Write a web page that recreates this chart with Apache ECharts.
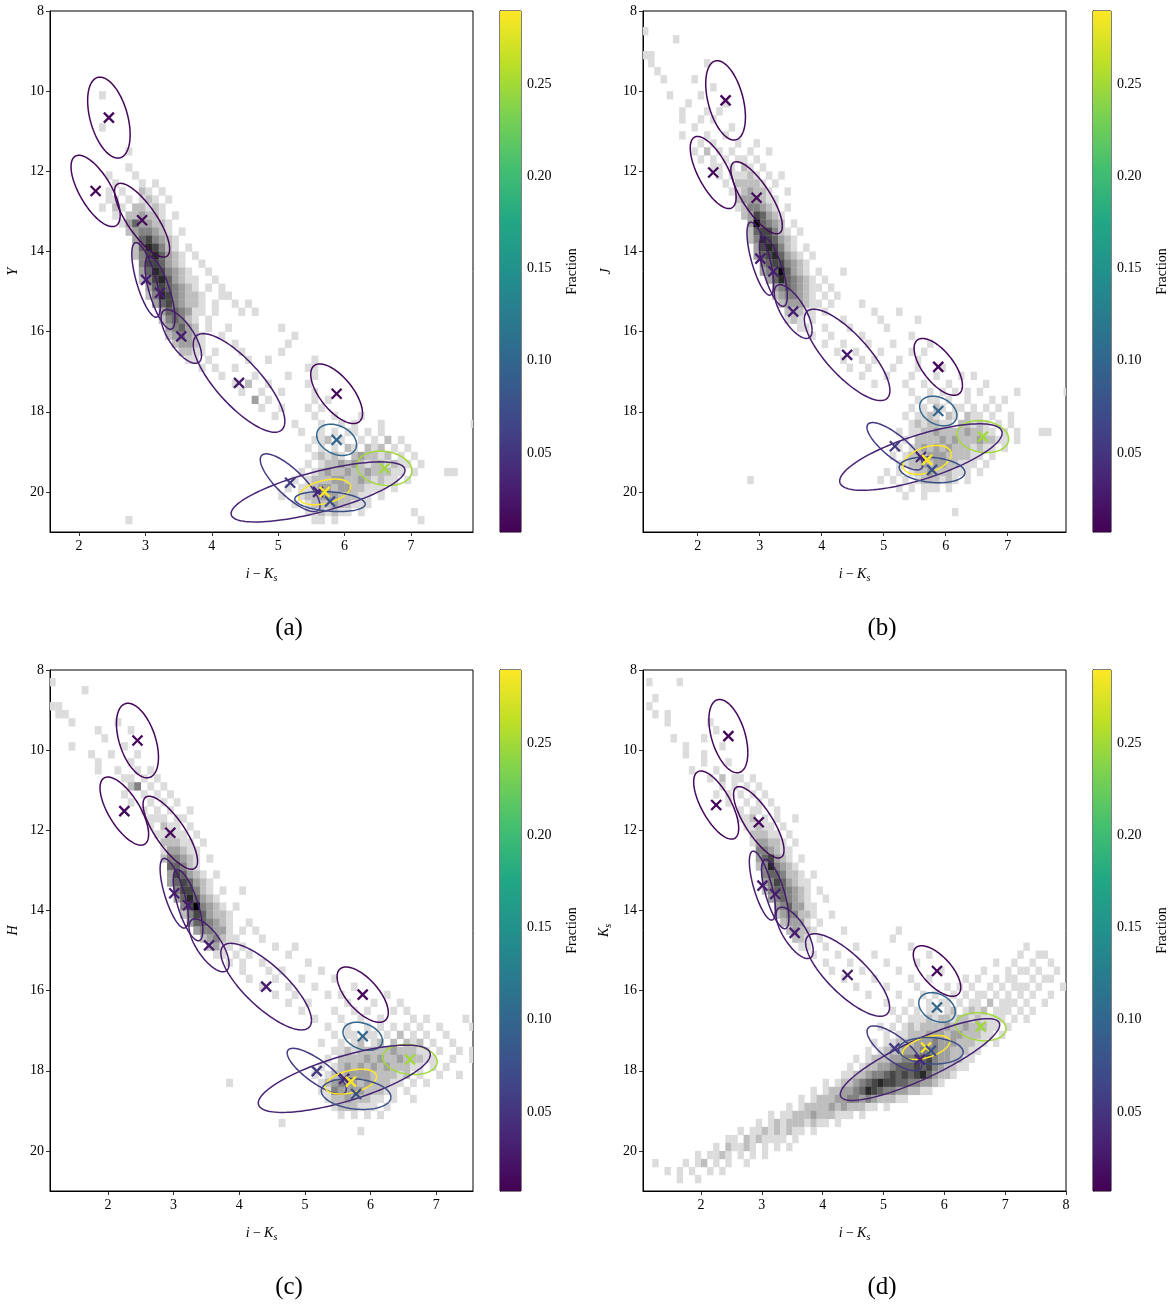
<!DOCTYPE html>
<html><head><meta charset="utf-8">
<script src="https://cdn.jsdelivr.net/npm/echarts@6/dist/echarts.min.js"></script>
<style>html,body{margin:0;padding:0;background:#fff;}#c{width:1170px;height:1306px;}</style>
</head><body><div id="c"></div>
<script>
// ---------------- data ----------------
// Gaussian mixture components (same order in every panel)
const compX    = [2.45, 2.25, 2.95, 3.01, 3.22, 3.54, 4.41, 5.88, 5.88, 6.60, 5.18, 5.60, 5.70, 5.78];
const compHX   = [0.32, 0.37, 0.415, 0.215, 0.225, 0.305, 0.69, 0.39, 0.30, 0.415, 0.45, 1.31, 0.39, 0.53];
const compFrac = [0.012, 0.012, 0.014, 0.03, 0.03, 0.03, 0.028, 0.012, 0.10, 0.25, 0.055, 0.035, 0.29, 0.075];
// per-panel centre magnitude, half-height and tilt (correlation)
const cyY  = [10.66, 12.49, 13.22, 14.71, 15.03, 16.12, 17.28, 17.55, 18.70, 19.41, 19.77, 20.00, 20.00, 20.24];
const hyY  = [1.01, 0.89, 0.92, 0.93, 0.91, 0.67, 1.23, 0.745, 0.39, 0.43, 0.72, 0.75, 0.32, 0.25];
const rhoY = [0.42, 0.68, 0.78, 0.70, 0.70, 0.70, 0.78, 0.65, 0.30, 0.15, 0.80, -0.72, -0.40, 0.25];
const cyJ  = [10.23, 12.03, 12.66, 14.18, 14.50, 15.50, 16.58, 16.88, 17.98, 18.62, 18.86, 19.13, 19.20, 19.45];
const hyJ  = [0.99, 0.90, 0.90, 0.91, 0.87, 0.67, 1.14, 0.71, 0.37, 0.40, 0.59, 0.83, 0.36, 0.32];
const rhoJ = [0.42, 0.68, 0.78, 0.70, 0.70, 0.70, 0.78, 0.65, 0.30, 0.15, 0.80, -0.72, -0.40, 0.20];
const cyH  = [9.76, 11.52, 12.06, 13.57, 13.87, 14.87, 15.90, 16.10, 17.14, 17.72, 18.01, 18.20, 18.27, 18.58];
const hyH  = [0.93, 0.85, 0.91, 0.87, 0.885, 0.66, 1.08, 0.69, 0.35, 0.375, 0.57, 0.84, 0.31, 0.385];
const rhoH = [0.45, 0.68, 0.78, 0.70, 0.70, 0.70, 0.78, 0.65, 0.30, 0.15, 0.80, -0.72, -0.40, 0.20];
const cyK  = [9.65, 11.37, 11.80, 13.38, 13.59, 14.56, 15.61, 15.51, 16.42, 16.90, 17.44, 17.72, 17.42, 17.50];
const hyK  = [0.915, 0.85, 0.89, 0.86, 0.865, 0.64, 1.03, 0.63, 0.37, 0.35, 0.56, 1.02, 0.30, 0.33];
const rhoK = [0.45, 0.68, 0.78, 0.70, 0.70, 0.70, 0.78, 0.65, 0.30, 0.15, 0.75, -0.85, -0.50, 0.10];

// 2D histogram: bins of 0.1 (colour) x 0.2 (mag) starting at (1.0, 8.0)
// rows: [row index, first column, counts per column ('.' = empty, 1..9 = darkness)]
const binX0 = 1.0, binY0 = 8.0, binW = 0.1, binH = 0.2;
const histY = [
[10,13,"1"],[14,13,"1"],[17,17,"1"],[19,17,"1"],[20,14,"1...1"],[21,15,"1...1.1"],
[22,14,"1.1..21.1"],[23,14,"11.1.121.1"],[24,13,"1.21.22121"],[25,15,"1.223221.1"],
[26,16,"13533221"],[27,17,"2344321.1"],[28,18,"3564321"],[29,18,"2576421.1"],
[30,18,"24675321.1"],[31,19,"4665321..1"],[32,19,"35764321..1"],[33,19,"246753211..1"],
[34,20,"35654321.1.1"],[35,20,"247643221..11"],[36,21,"35643221.1..1.1"],
[37,22,"3554311.1...1.1"],[38,22,"245421.1"],[39,23,"34532.1..1.......1"],
[40,23,"234321..1..........1"],[41,24,"23321....1.......1"],[42,25,"2211.1...1.....1"],
[43,26,"11.1.....1..1......1"],[44,28,"1.1..1..........11"],[45,31,"1....1....1...1"],
[46,33,"1.2..1.....1"],[47,34,"1..1..1....1"],[48,36,"3.1......1.1"],[49,37,"1..1...1.1"],
[50,39,"1.....1..1...1"],[51,42,"1...1..1.1...1"],[51,69,"1"],[52,43,"1..1.1.11.1.1"],
[53,45,"112.1..1.1.2.1"],[54,44,"1.1.1.21.212.1.1"],[55,45,"12121.232212.1.1"],
[56,44,"1.12232321221211.1"],[57,43,"1.12322322322211.1....11"],[58,42,"1.12223322321211.1"],
[59,41,"1.1123323322111.1"],[60,40,"1..12233322211.1"],[61,42,"1.1222322111"],
[62,44,"1121211.1.......1"],[63,17,"1"],[63,45,"11.1............1"]
];
const histJ = [
[2,1,"1"],[3,6,"1"],[5,1,"11"],[6,2,"1........1"],[7,3,"1"],[8,4,"1....1"],[9,12,"1"],
[10,5,"1....1"],[11,8,"1.....1"],[12,7,"1...1.1"],[13,7,"1..1.1"],[14,9,"1.....1"],
[15,7,"1...1..1"],[16,10,"1.1...1..1"],[17,9,"1.2.1.1..1..1"],[18,10,"1.1.1.11.1"],
[19,12,"11.1.21.1"],[20,13,"1.11121.1.1"],[21,14,"1.22221.1"],[22,15,"1123221..1"],
[23,16,"2333211"],[24,16,"1244321.1"],[25,17,"2365321"],[26,18,"385432.1"],
[27,18,"2566421.1"],[28,18,"24765321"],[29,19,"3676421.1"],[30,19,"35675321.1"],
[31,20,"45664321"],[32,20,"34585321.1...1"],[33,21,"35754321.1"],[34,22,"34543211.1"],
[35,22,"2344321.1.1"],[36,23,"2333211.1....1"],[37,24,"22211.1.......1...1"],
[38,24,"121.1....1.....1.....1"],[39,26,"11..1...1.....1"],[40,28,"1..1....1.......1"],
[41,30,"1..1...1...1.....1"],[42,32,"1..1...1....1.1"],[43,33,"1..1.1...1..1"],
[44,34,"1..1...1...1...1"],[45,36,"1...1...1...1...1.1"],[46,38,"1....1..1...1.....1"],
[47,44,"1..1.1.1.1.1.....1.......1"],[48,45,"1.11.1..1...1.1"],[49,44,"1.1.21.11.1.1.1"],
[50,43,"1.1121.21.211.1..1"],[51,44,"1212211.22121.1.1"],[52,42,"1.11223222232211.1.1...11"],
[53,43,"1.222232322232211.1"],[54,42,"1.12323232221211.1"],[55,41,"1.1222333222211.1"],
[56,42,"1122323322111.1"],[57,40,"1.1.1223222111.1"],[58,18,"1"],[58,39,"1.1.1.1222121.1"],
[59,42,"1.1.111.1"],[60,43,"1..1"],[62,51,"1"]
];
const histH = [
[1,1,"1"],[2,6,"1"],[4,1,"11"],[5,2,"11"],[6,4,"1......1"],[7,8,"1....1"],[8,9,"1"],
[9,4,"1.......1"],[10,7,"1..1...1"],[11,8,"1....1"],[12,8,"1..1..1.1"],[13,12,"11.1.1"],
[14,13,"24.1.1"],[15,12,"1..1.1.1"],[16,13,"1..1.1.1"],[17,15,"1.1.1..1"],[18,16,"111.11"],
[19,16,"1.211.1"],[20,17,"11211.1"],[21,18,"22211.1"],[22,18,"133211"],[23,18,"244321.1"],
[24,19,"55421"],[25,19,"365321.1"],[26,19,"3565321"],[27,20,"466421.1..1"],[28,20,"3575321"],
[29,21,"4694321.1"],[30,21,"24653221"],[31,22,"3554321..1"],[32,23,"344331.1.1"],
[33,24,"234211...1"],[34,25,"2311.1....1..1"],[35,26,"11.1.1.....1"],[36,28,"1.1..1......1"],
[37,30,"1...1.1.....1"],[38,31,"1...1...1....1"],[39,33,"1...1...1.....1"],
[40,35,"1..1....1.1......1"],[41,37,"1..1.....1...1...1"],[42,39,"1....1..1.1...1.1"],
[43,41,"1...1..1..1....1.1.....1"],[44,43,"1..1..1.1.1.1.1..1....1"],[45,44,"1.11.11.1.2.1.1..1"],
[46,42,"1..1.12.12.2.212.1..1"],[47,44,"112122222322211.1..1.1"],[48,43,"1.222232322322211..1..1"],
[49,42,"1.12323232322211.1.1"],[50,41,"1.1223333222212.1..1..1"],[51,28,"1"],
[51,42,"1234332322211.1.1"],[52,42,"114333322211.1"],[53,43,"122322211.1..1"],
[54,44,"1222111.1"],[55,45,"1.1.1.1"],[56,36,"1"],[57,48,"1"]
];
const histKs = [
[1,1,"1....1"],[3,2,"1"],[4,1,"1"],[5,2,"1.1"],[6,4,"1......1"],[7,12,"1"],[8,5,"1....1"],
[9,7,"1.....1"],[10,7,"1..1"],[11,10,"1...1"],[12,8,"1...1"],[13,11,"1.2.11.1"],
[14,13,"1.1.1.1"],[15,12,"1.1.1.1.1"],[16,14,"1..1.1.1"],[17,16,"1.11..1"],
[18,16,"112.1.1..1"],[19,17,"11211.1"],[20,18,"22211.1"],[21,18,"133221.1"],[22,19,"443211"],
[23,19,"356321.1"],[24,19,"2474321"],[25,20,"4554221.1"],[26,20,"34653211"],
[27,20,"24554321.1"],[28,21,"3454321..1"],[29,22,"3453311"],[30,22,"2344221..1"],
[31,23,"23331.1"],[32,24,"23221....1........1"],[33,25,"221.1...........1"],
[34,26,"11..1....1........1..................1"],
[35,28,"1...1.....1........1..............1..11"],
[36,30,"1...1.....1....1............1..1..1..1"],
[37,31,"1....1.....1......1......1...1.11.1..1"],
[38,33,"1....1.....1..1.....1.1..1.11..1.11"],
[39,35,"1....1....1....1.1.1..1.1.111.1...1"],
[40,37,"1....1...1.1..1.1.11.1.1.1.1..1"],
[41,40,"1...1..1.11.1.11.2.111.1..1"],
[42,41,"1.1.1.11.12.1212.111.1.1"],[43,42,"1.1112122122121111.1.1"],
[44,39,"1.1.1212222322322211.1"],[45,40,"1.1122233323322211.1"],
[46,38,"1.11222333433322211.1"],[47,37,"1.12223334443322211"],
[48,35,"1.122233445564332211"],[49,34,"1.122334555656432211"],
[50,33,"1122344565656753221"],[51,30,"1.122345676655443321"],
[52,28,"1.122334576544332211"],[53,26,"1.1222334434322211"],[54,24,"1.1222232322211.1"],
[55,21,"1.112223222111.1"],[56,19,"1.1212221211.1"],[57,16,"1.112121211.1"],
[58,14,"11.2121111.1"],[59,12,"1.21121.1.1.1"],[60,9,"1.1121.1.1.1"],
[61,2,"1....1.12.1.1..1"],[62,4,"1.1.1..1.1"],[63,6,"1..1"]
];

// axes
const xTicks   = [2, 3, 4, 5, 6, 7];
const xTicksKs = [2, 3, 4, 5, 6, 7, 8];
const yTicks   = [8, 10, 12, 14, 16, 18, 20];
const cbTicks  = [0.05, 0.10, 0.15, 0.20, 0.25];
const fracMin = 0.007, fracMax = 0.29;

// ---------------- helpers ----------------
const VIR = ['#440154','#482475','#414487','#355f8d','#2a788e','#21918c','#22a884','#44bf70','#7ad151','#bddf26','#fde725'];
function hex2rgb(h){return [parseInt(h.substr(1,2),16),parseInt(h.substr(3,2),16),parseInt(h.substr(5,2),16)];}
function viridis(f){
  let t=(f-fracMin)/(fracMax-fracMin); t=Math.max(0,Math.min(1,t));
  const p=t*(VIR.length-1); const i=Math.min(VIR.length-2,Math.floor(p)); const u=p-i;
  const a=hex2rgb(VIR[i]), b=hex2rgb(VIR[i+1]);
  return 'rgb('+a.map((v,k)=>Math.round(v+(b[k]-v)*u)).join(',')+')';
}
function grayOf(l){const g=Math.max(0,Math.round(220-(l-1)*30));return 'rgb('+g+','+g+','+g+')';}
function cells(rows){
  const out=[];
  rows.forEach(([r,c0,s])=>{for(let k=0;k<s.length;k++){const ch=s[k]; if(ch>='1'&&ch<='9'){out.push([binX0+(c0+k)*binW, binY0+r*binH, +ch]);}}});
  return out;
}
function comps(cy,hy,rho){return compX.map((x,i)=>[x,cy[i],compHX[i],hy[i],rho[i],compFrac[i]]);}

const FONT='Liberation Serif';
const panels=[
  {hist:histY, cy:cyY, hy:hyY, rho:rhoY, left:50,  top:11,  xmin:1.563, xmax:7.934, xt:xTicks,   yname:'{i|Y}',      lab:'(a)'},
  {hist:histJ, cy:cyJ, hy:hyJ, rho:rhoJ, left:643, top:11,  xmin:1.118, xmax:7.94,  xt:xTicks,   yname:'{i|J}',      lab:'(b)'},
  {hist:histH, cy:cyH, hy:hyH, rho:rhoH, left:50,  top:670, xmin:1.118, xmax:7.56,  xt:xTicks,   yname:'{i|H}',      lab:'(c)'},
  {hist:histKs,cy:cyK, hy:hyK, rho:rhoK, left:643, top:670, xmin:1.047, xmax:8.0,   xt:xTicksKs, yname:'{i|K}{s|s}', lab:'(d)'}
];
const PW=423, PH=521;
const rich={i:{fontStyle:'italic',fontFamily:FONT,fontSize:14,color:'#000'},
            m:{fontFamily:FONT,fontSize:14,color:'#000'},
            s:{fontStyle:'italic',fontFamily:FONT,fontSize:10,color:'#000',verticalAlign:'top',padding:[7,0,0,0]}};
const lbl={fontFamily:FONT,fontSize:14,color:'#000'};

const option={animation:false,backgroundColor:'#fff',grid:[],xAxis:[],yAxis:[],series:[],graphic:[]};

panels.forEach((p)=>{
  const gi=option.grid.length;
  option.grid.push({left:p.left,top:p.top,width:PW,height:PH,show:true,borderColor:'#000',borderWidth:1,backgroundColor:'rgba(0,0,0,0)'});
  option.xAxis.push({type:'value',gridIndex:gi,min:p.xmin,max:p.xmax,splitLine:{show:false},
    axisLine:{show:true,onZero:false,lineStyle:{color:'#000',width:1}},
    axisTick:{show:true,length:4,lineStyle:{color:'#000',width:0.8},customValues:p.xt},
    axisLabel:Object.assign({customValues:p.xt,margin:7,formatter:v=>String(Math.round(v))},lbl),
    name:'{i|i} {m|−} {i|K}{s|s}',nameLocation:'middle',nameGap:34,nameTextStyle:{rich:rich}});
  option.yAxis.push({type:'value',gridIndex:gi,min:8,max:21,inverse:true,splitLine:{show:false},
    axisLine:{show:true,onZero:false,lineStyle:{color:'#000',width:1}},
    axisTick:{show:true,length:4,lineStyle:{color:'#000',width:0.8},customValues:yTicks},
    axisLabel:Object.assign({customValues:yTicks,margin:6,formatter:v=>String(Math.round(v))},lbl),
    name:p.yname,nameLocation:'middle',nameGap:30,nameRotate:90,nameTextStyle:{rich:rich}});
  // histogram
  option.series.push({type:'custom',xAxisIndex:gi,yAxisIndex:gi,clip:true,z:1,data:cells(p.hist),
    renderItem:(params,api)=>{
      const x=api.value(0),y=api.value(1),l=api.value(2);
      const a=api.coord([x,y]),b=api.coord([x+binW,y+binH]);
      return {type:'rect',shape:{x:Math.min(a[0],b[0]),y:Math.min(a[1],b[1]),width:Math.abs(b[0]-a[0])+0.3,height:Math.abs(b[1]-a[1])+0.3},style:{fill:grayOf(l)}};
    }});
  const cd=comps(p.cy,p.hy,p.rho);
  // ellipses
  option.series.push({type:'custom',xAxisIndex:gi,yAxisIndex:gi,clip:true,z:2,data:cd,
    renderItem:(params,api)=>{
      const cx=api.value(0),cy=api.value(1),hx=api.value(2),hy=api.value(3),r=api.value(4),f=api.value(5);
      const s=Math.sqrt(1-r*r),pts=[];
      for(let k=0;k<=120;k++){const t=2*Math.PI*k/120;pts.push(api.coord([cx+hx*Math.cos(t),cy+hy*(r*Math.cos(t)+s*Math.sin(t))]));}
      return {type:'polyline',shape:{points:pts},style:{fill:null,stroke:viridis(f),lineWidth:1.5}};
    }});
  // centre markers
  option.series.push({type:'custom',xAxisIndex:gi,yAxisIndex:gi,clip:true,z:3,data:cd,
    renderItem:(params,api)=>{
      const c=api.coord([api.value(0),api.value(1)]),col=viridis(api.value(5)),d=5;
      return {type:'group',children:[
        {type:'line',shape:{x1:c[0]-d,y1:c[1]-d,x2:c[0]+d,y2:c[1]+d},style:{stroke:col,lineWidth:2.3}},
        {type:'line',shape:{x1:c[0]-d,y1:c[1]+d,x2:c[0]+d,y2:c[1]-d},style:{stroke:col,lineWidth:2.3}}]};
    }});
  // colorbar
  const ci=option.grid.length;
  option.grid.push({left:p.left+450,top:p.top,width:21,height:PH,show:true,borderColor:'#000',borderWidth:1,backgroundColor:'rgba(0,0,0,0)'});
  option.xAxis.push({type:'value',gridIndex:ci,min:0,max:1,show:false});
  option.yAxis.push({type:'value',gridIndex:ci,position:'right',min:fracMin,max:fracMax,splitLine:{show:false},
    axisLine:{show:true,lineStyle:{color:'#000',width:1}},
    axisTick:{show:true,length:4,lineStyle:{color:'#000',width:0.8},customValues:cbTicks},
    axisLabel:Object.assign({customValues:cbTicks,margin:6,formatter:v=>v.toFixed(2)},lbl),
    name:'Fraction',nameLocation:'middle',nameGap:44,nameRotate:90,nameTextStyle:{fontFamily:FONT,fontSize:14,color:'#000'}});
  option.series.push({type:'custom',xAxisIndex:ci,yAxisIndex:ci,z:1,data:[[0,fracMin,fracMax]],
    renderItem:(params,api)=>{
      const a=api.coord([0,api.value(2)]),b=api.coord([1,api.value(1)]);
      const stops=VIR.map((c,k)=>({offset:k/(VIR.length-1),color:c}));
      return {type:'rect',shape:{x:a[0],y:a[1],width:b[0]-a[0],height:b[1]-a[1]},
        style:{fill:new echarts.graphic.LinearGradient(0,1,0,0,stops)}};
    }});
  option.graphic.push({type:'text',x:p.left+239,y:p.top+617,style:{text:p.lab,fontFamily:FONT,fontSize:25,fill:'#000',align:'center',verticalAlign:'middle'}});
});

const chart=echarts.init(document.getElementById('c'),null,{renderer:'canvas'});
chart.setOption(option);
</script></body></html>
